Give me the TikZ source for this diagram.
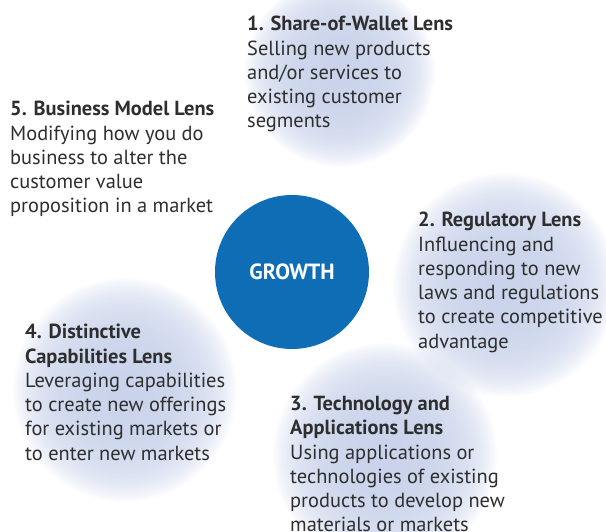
\documentclass[tikz,border=0pt]{standalone}
\usepackage{fontspec}
\setmainfont{PT Sans}
\definecolor{growthblue}{HTML}{0F6DB5}
\definecolor{glowc}{RGB}{192,203,231}
\definecolor{txtc}{HTML}{2E2E2E}
\tikzset{
  lens/.style={anchor=north west, inner sep=0pt, align=left, text=txtc,
    font=\fontsize{20.4}{24.3}\selectfont},
  hub/.style={circle, fill=growthblue, minimum size=154pt, inner sep=0pt,
    text=white, font=\fontsize{22}{26}\selectfont\bfseries}
}
\newcommand{\glowat}[3]{%
  \foreach \k in {1,...,30}{\fill[glowc, opacity=0.06] (#1,#2) circle ({#3*sqrt(\k/30)});}}
\begin{document}
\begin{tikzpicture}[x=1pt,y=-1pt]
\useasboundingbox (0,0) rectangle (606,532);
% glows
\glowat{340}{72}{95}
\glowat{505}{285}{112}
\glowat{125}{390}{112}
\glowat{385}{455}{112}
% hub
\node[hub] (growth) at (292,272) {GROWTH};
% lenses
\node[lens] (l1) at (247,16) {\textbf{1. Share-of-Wallet Lens}\\Selling new products\\and/or services to\\existing customer\\segments};
\node[lens] (l5) at (10,101) {\textbf{5. Business Model Lens}\\Modifying how you do\\business to alter the\\customer value\\proposition in a market};
\node[lens] (l2) at (418,212) {\textbf{2. Regulatory Lens}\\Influencing and\\responding to new\\laws and regulations\\to create competitive\\advantage};
\node[lens] (l4) at (25,324) {\textbf{4. Distinctive}\\\textbf{Capabilities Lens}\\Leveraging capabilities\\to create new offerings\\for existing markets or\\to enter new markets};
\node[lens] (l3) at (290,396) {\textbf{3. Technology and}\\\textbf{Applications Lens}\\Using applications or\\technologies of existing\\products to develop new\\materials or markets};
\end{tikzpicture}
\end{document}
